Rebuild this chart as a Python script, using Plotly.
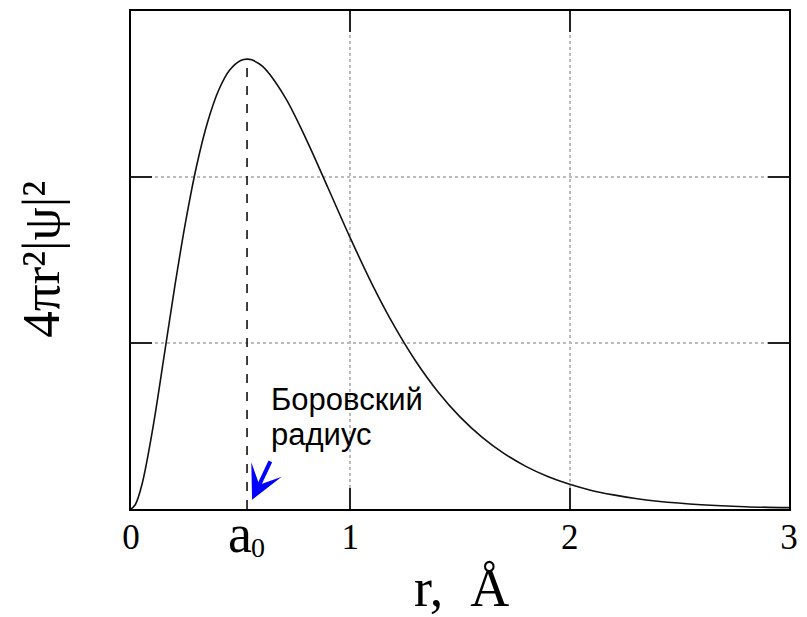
import plotly.graph_objects as go

# radial probability
r = [0, 0.02, 0.05, 0.1, 0.15, 0.2, 0.25, 0.3, 0.35, 0.4, 0.45, 0.5, 0.53, 0.55, 0.6,
     0.7, 0.8, 0.9, 1.0, 1.1, 1.2, 1.3, 1.4, 1.5, 1.6, 1.7, 1.8, 1.9, 2.0,
     2.1, 2.2, 2.3, 2.4, 2.6, 2.8, 3.0]
p = [0, 0.027, 0.148, 0.490, 0.913, 1.344, 1.737, 2.072, 2.334, 2.524, 2.644, 2.702, 2.71,
     2.706, 2.666, 2.486, 2.224, 1.929, 1.632, 1.352, 1.103, 0.887, 0.705, 0.555, 0.433,
     0.335, 0.257, 0.196, 0.149, 0.112, 0.085, 0.063, 0.047, 0.026, 0.014, 0.008]
a0 = 0.529
a0_peak = 2.71
x_ticks = [0, 1, 2, 3]
x_labels = ["0", "1", "2", "3"]

serif = "Liberation Serif"

fig = go.Figure()
fig.add_trace(go.Scatter(x=r, y=p, mode="lines", line_shape="spline",
                         line=dict(color="#111111", width=1.6), hoverinfo="skip"))
fig.add_trace(go.Scatter(x=[a0, a0], y=[0, a0_peak], mode="lines",
                         line=dict(color="#111111", width=1.6, dash="dash"), hoverinfo="skip"))

axis_common = dict(showline=True, linecolor="black", linewidth=2, mirror="ticks",
                   ticks="inside", ticklen=21, tickwidth=2, tickcolor="#222222",
                   showgrid=True, gridcolor="#bbbbbb", griddash="dot", gridwidth=1.5,
                   zeroline=False, fixedrange=True)

fig.update_xaxes(range=[0, 3], tickvals=x_ticks, ticktext=x_labels,
                 tickfont=dict(family=serif, size=35, color="black"),
                 ticklabelstandoff=-4, **axis_common)
fig.update_yaxes(range=[0, 3], tickvals=[0, 1, 2, 3], showticklabels=False, **axis_common)

# a0 label under the axis
fig.add_annotation(x=a0, y=0, xref="x", yref="y", text="a", showarrow=False,
                   font=dict(family=serif, size=54, color="black"),
                   xanchor="center", yanchor="top", xshift=-7, yshift=7)
fig.add_annotation(x=a0, y=0, xref="x", yref="y", text="0", showarrow=False,
                   font=dict(family=serif, size=28, color="black"),
                   xanchor="left", yanchor="top", xshift=2, yshift=-21)

# Bohr radius note with blue arrow
fig.add_annotation(x=0.552, y=0.055, xref="x", yref="y", ax=19, ay=-40,
                   text="", showarrow=True, arrowhead=3, arrowsize=1.4,
                   arrowwidth=4, arrowcolor="#0000ff")
fig.add_annotation(x=0.63, y=0.54, xref="x", yref="y", text="Боровский",
                   showarrow=False, xanchor="left", yanchor="bottom",
                   font=dict(family="Liberation Sans", size=31, color="black"))
fig.add_annotation(x=0.63, y=0.33, xref="x", yref="y", text="радиус",
                   showarrow=False, xanchor="left", yanchor="bottom",
                   font=dict(family="Liberation Sans", size=31, color="black"))

# axis titles
fig.add_annotation(x=-0.137, y=0.502, xref="paper", yref="paper", text="4πr²|ψ|²",
                   textangle=-90, showarrow=False, xanchor="center", yanchor="middle",
                   font=dict(family=serif, size=53, color="black"))
fig.add_annotation(x=0.502, y=-0.159, xref="paper", yref="paper", text="r,  Å",
                   showarrow=False, xanchor="center", yanchor="middle", height=58,
                   font=dict(family=serif, size=54, color="black"))

fig.update_layout(width=807, height=617, showlegend=False,
                  paper_bgcolor="white", plot_bgcolor="white",
                  margin=dict(l=131, r=12, t=9, b=108))

# drop the default page margin and scrollbars so the figure fills the window
fig.write_html("out.html", config={"displayModeBar": False},
               post_script="document.body.style.margin='0';document.body.style.overflow='hidden';")
